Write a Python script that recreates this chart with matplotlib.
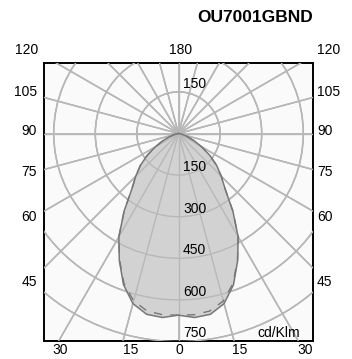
import numpy as np
import matplotlib
matplotlib.use('Agg')
import matplotlib.pyplot as plt
from matplotlib.patches import Circle

plt.rcParams['font.family'] = ['Liberation Sans', 'DejaVu Sans']

title = 'OU7001GBND'
unit = 'cd/Klm'

# intensity distribution, angle from nadir (deg) -> cd/klm
angles = [0, 5, 10, 15, 20, 25, 30, 35, 40, 45, 50, 55, 60, 65, 70, 75, 80, 85, 90]
c0_c180 = [655, 666, 662, 635, 580, 505, 430, 342, 262, 218, 180, 138, 97, 63, 36, 18, 8, 2, 0]
c90_c270 = [655, 656, 650, 625, 575, 503, 430, 342, 262, 218, 180, 138, 97, 63, 36, 18, 8, 2, 0]

rings = [150, 300, 450, 600, 750, 900]
ring_labels = ['150', '300', '450', '600', '750']
spokes = np.arange(0, 360, 15)

# angle labels around the frame (text, px x, px y)
W, H = 352, 359
cx, cy = 178.5, 133.5
s = 750 / 208.0
frame_labels = [('120', 26.5, 50, 'center'), ('180', 181, 50, 'center'), ('120', 329, 50, 'center'),
                ('105', 37, 92, 'right'), ('90', 37, 131, 'right'), ('75', 37, 172, 'right'),
                ('60', 37, 217, 'right'), ('45', 37, 282, 'right'),
                ('105', 317, 92, 'left'), ('90', 317, 131, 'left'), ('75', 317, 172, 'left'),
                ('60', 317, 217, 'left'), ('45', 317, 282, 'left'),
                ('30', 60.5, 350, 'center'), ('15', 130.5, 350, 'center'), ('0', 179, 350, 'center'),
                ('15', 239.5, 350, 'center'), ('30', 305.5, 350, 'center')]


def px(x, y):
    return (x - cx) * s, (cy - y) * s


def curve(vals):
    a = np.radians(np.array(angles, dtype=float))
    v = np.array(vals, dtype=float)
    # mirror for both sides
    a_full = np.concatenate([-a[::-1], a[1:]])
    v_full = np.concatenate([v[::-1], v[1:]])
    return v_full * np.sin(a_full), -v_full * np.cos(a_full)


def draw_grid(col, lw, z):
    for r in rings:
        ax.add_patch(Circle((0, 0), r, fill=False, ec=col, lw=lw, zorder=z))
    for a in spokes:
        t = np.radians(a)
        ax.plot([0, 1200 * np.sin(t)], [0, -1200 * np.cos(t)], color=col, lw=lw, zorder=z)


fig = plt.figure(figsize=(W / 100, H / 100), dpi=100)
x0, x1, y0, y1 = 44, 312.5, 63, 341
ax = fig.add_axes([x0 / W, 1 - y1 / H, (x1 - x0) / W, (y1 - y0) / H])
ax.set_facecolor('#fafafa')
xa, _ = px(x0, 0)
xb, _ = px(x1, 0)
_, yt = px(0, y0)
_, yb = px(0, y1)
ax.set_xlim(xa, xb)
ax.set_ylim(yb, yt)
ax.set_xticks([])
ax.set_yticks([])
for sp in ax.spines.values():
    sp.set_linewidth(1.4)
    sp.set_color('black')

draw_grid('#a8a8a8', 1.1, 1)
xs, ys = curve(c0_c180)
ax.fill(xs, ys, color='#d2d2d2', zorder=2, lw=0)
# grid shows through the fill, lighter
draw_grid('#b8b8b8', 1.0, 3)
ax.plot(xs, ys, color='#777777', lw=1.1, zorder=4)
xs2, ys2 = curve(c90_c270)
ax.plot(xs2, ys2, color='#777777', lw=1.0, ls=(0, (6, 6)), zorder=4)

# ring labels
ax.text(4.5 * s, 150 + 2, '150', fontsize=10, ha='left', va='bottom', zorder=5)
for r, lab in zip(rings, ring_labels):
    ax.text(4.5 * s, -r + 4, lab, fontsize=10, ha='left', va='bottom', zorder=5)
tx, ty = px(279, 333)
ax.text(tx, ty, unit, fontsize=10, ha='center', va='center', zorder=5)

for lab, lx, ly, ha in frame_labels:
    dx, dy = px(lx, ly)
    ax.text(dx, dy, lab, fontsize=10, ha=ha, va='center', clip_on=False)

fig.text(x1 / W, 1 - 17 / H, title, fontsize=12.5, fontweight='bold', ha='right', va='center')

fig.savefig('out.png', dpi=100)
